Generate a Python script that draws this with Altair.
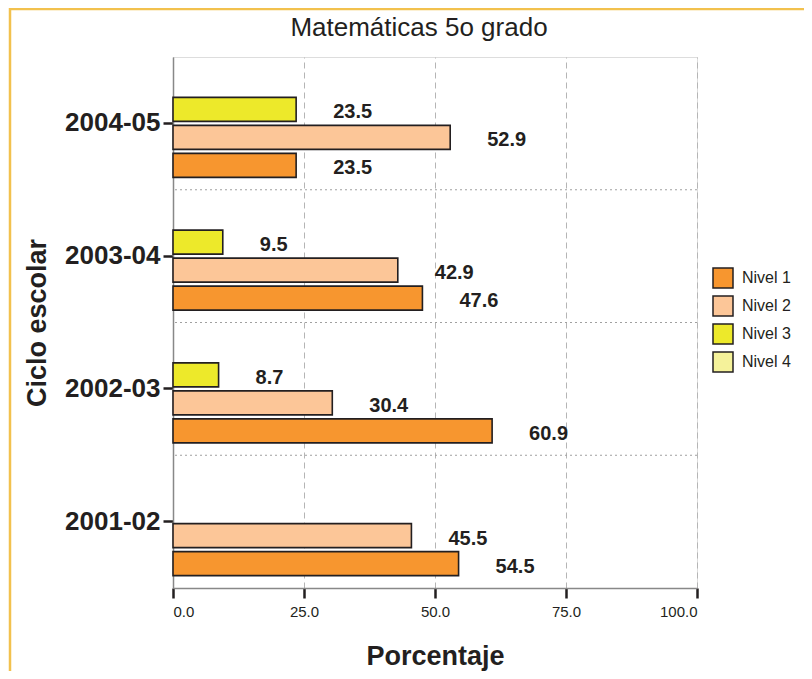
import altair as alt
import pandas as pd

ciclos = ["2004-05", "2003-04", "2002-03", "2001-02"]
niveles = ["Nivel 1", "Nivel 2", "Nivel 3", "Nivel 4"]
nivel1 = [23.5, 47.6, 60.9, 54.5]
nivel2 = [52.9, 42.9, 30.4, 45.5]
nivel3 = [23.5, 9.5, 8.7, None]
nivel4 = [None, None, None, None]
colores = ["#F7962F", "#FCC698", "#EDE92A", "#F5F29A"]

rows = []
for serie, vals in zip(niveles, [nivel1, nivel2, nivel3, nivel4]):
    for c, v in zip(ciclos, vals):
        if v is not None:
            rows.append({"ciclo": c, "nivel": serie, "valor": v})
df = pd.DataFrame(rows)

FONT = "Liberation Sans"
INK = "#231F20"

y_enc = alt.Y("ciclo:N", scale=alt.Scale(domain=ciclos, paddingInner=0, paddingOuter=0),
              axis=alt.Axis(title="Ciclo escolar", labelFont=FONT, labelFontSize=26,
                            labelFontWeight="bold", labelColor=INK, labelPadding=3,
                            tickColor=INK, tickWidth=2.5, tickSize=10,
                            domainColor="#888888", domainWidth=1.5,
                            titleFont=FONT, titleFontSize=27, titleFontWeight="bold",
                            titleColor=INK, titlePadding=13, grid=False))
yoff_enc = alt.YOffset("nivel:N", scale=alt.Scale(domain=niveles[::-1], paddingInner=0.143,
                                                   paddingOuter=0.44))
x_enc = alt.X("valor:Q", scale=alt.Scale(domain=[0, 100], nice=False),
              axis=alt.Axis(title="Porcentaje", values=[0, 25, 50, 75, 100], format=".1f",
                            labelFont=FONT, labelFontSize=15, labelColor=INK, labelPadding=6,
                            tickColor=INK, tickWidth=2.5, tickSize=10,
                            domainColor="#888888", domainWidth=1.5,
                            grid=True, gridColor="#B5B5B5", gridDash=[6, 4], gridWidth=1,
                            titleFont=FONT, titleFontSize=27, titleFontWeight="bold",
                            titleColor=INK, titlePadding=24))

bars = alt.Chart(df).mark_bar(stroke=INK, strokeWidth=1.6).encode(
    y=y_enc,
    yOffset=yoff_enc,
    x=x_enc,
    color=alt.Color("nivel:N", scale=alt.Scale(domain=niveles, range=colores),
                    legend=alt.Legend(title=None, orient="none", legendX=539, legendY=210,
                                      symbolType="square", symbolSize=400,
                                      symbolStrokeColor=INK, symbolStrokeWidth=1.5,
                                      labelFont=FONT, labelFontSize=16, labelColor=INK,
                                      rowPadding=2, labelOffset=8)),
)

labels = alt.Chart(df).mark_text(align="left", baseline="middle", dx=37, dy=3,
                                 font=FONT, fontSize=20, fontWeight="bold", color=INK).encode(
    y=alt.Y("ciclo:N"),
    yOffset=alt.YOffset("nivel:N"),
    x=alt.X("valor:Q"),
    text=alt.Text("valor:Q", format=".1f"),
)

sep_df = pd.DataFrame({"ciclo": ciclos[:3]})
seps = alt.Chart(sep_df).mark_rule(color="#A0A0A0", strokeDash=[2, 3], strokeWidth=1).encode(
    y=alt.Y("ciclo:N", bandPosition=1),
)

frame = alt.Chart(pd.DataFrame({"k": [0]})).mark_rect(
    fill=None, stroke="#F2C14E", strokeWidth=2.5, clip=False).encode(
    x=alt.value(-163), x2=alt.value(660), y=alt.value(-48), y2=alt.value(700)
)

chart = alt.layer(seps, bars, labels, frame).properties(
    width=524, height=531,
    title=alt.TitleParams("Matemáticas 5o grado", font=FONT, fontSize=26,
                          fontWeight="normal", color=INK, offset=0, dy=33, dx=-16,
                          anchor="middle", frame="group"),
    autosize=alt.AutoSizeParams(type="none"),
    padding={"left": 165, "top": 49, "right": 107, "bottom": 83},
).configure_view(stroke="#A0A0A0", strokeWidth=1.5).configure(background="white")

chart.save("out.html", embed_options={"renderer": "svg", "actions": False})
